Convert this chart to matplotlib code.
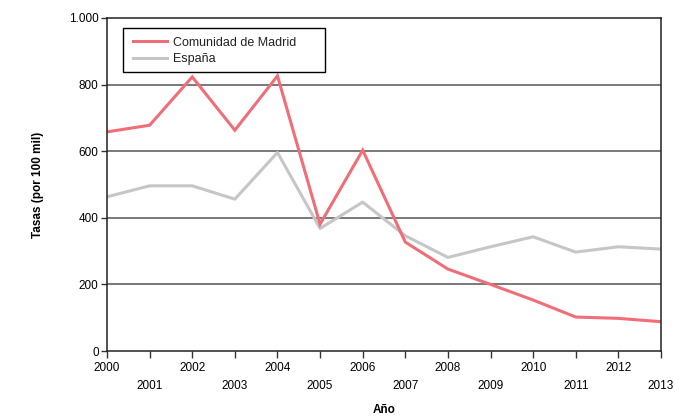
import matplotlib
matplotlib.use("Agg")
import matplotlib.pyplot as plt
from matplotlib.patches import Rectangle

years = list(range(2000, 2014))
madrid = [658, 678, 823, 663, 826, 381, 603, 327, 246, 200, 153, 102, 98, 88]
espana = [463, 496, 496, 456, 596, 368, 447, 346, 281, 313, 343, 297, 313, 306]
year_labels = [str(y) if y % 2 == 0 else "\n" + str(y) for y in years]
yticks = [0, 200, 400, 600, 800, 1000]
ytick_labels = ["0", "200", "400", "600", "800", "1.000"]

plt.rcParams['font.family'] = ['Liberation Sans Narrow', 'Liberation Sans', 'DejaVu Sans']

W, H = 675, 417
fig = plt.figure(figsize=(6.75, 4.17), dpi=100)
ax = fig.add_axes([107/W, 1-351/H, (661-107)/W, (351-18)/H])

ax.plot(years, madrid, color="#F06E78", lw=2.2, label="Comunidad de Madrid", solid_joinstyle='miter')
ax.plot(years, espana, color="#C6C6C6", lw=2.2, label="España", zorder=1.5)

ax.set_xlim(2000, 2013)
ax.set_ylim(0, 1000)
ax.set_xticks(years)
ax.set_xticklabels(year_labels, fontsize=8.5, linespacing=1.6)
ax.set_yticks(yticks)
ax.set_yticklabels(ytick_labels, fontsize=8.5)
ax.tick_params(axis='x', direction='out', length=5, width=1, color='#333333', pad=3)
ax.tick_params(axis='y', direction='out', length=4, width=1, color='#333333', pad=2)
for y in yticks[1:-1]:
    ax.axhline(y, color='#555555', lw=1.1, zorder=1)
for s in ['left', 'top', 'right', 'bottom']:
    ax.spines[s].set_color('#222222')
    ax.spines[s].set_linewidth(1.1)

ax.set_ylabel("Tasas (por 100 mil)", fontsize=8.5, fontweight='bold')
ax.set_xlabel("Año", fontsize=8.5, fontweight='bold')
ax.yaxis.set_label_coords(-0.113, 0.5)
ax.xaxis.set_label_coords(0.5, -0.16)

leg = fig.legend(*ax.get_legend_handles_labels(), loc='upper left',
                 bbox_to_anchor=(133/W, 1-36.5/H), bbox_transform=fig.transFigure,
                 frameon=False, fontsize=9,
                 handlelength=2.7, borderpad=0, labelspacing=0.36,
                 handletextpad=0.5, borderaxespad=0)
for t in leg.get_texts():
    t.set_family(['Liberation Sans', 'DejaVu Sans'])
    t.set_color('#222222')
fig.patches.append(Rectangle((123/W, 1-72/H), 202/W, 44/H, transform=fig.transFigure,
                             fill=True, facecolor='white', edgecolor='black', lw=1.0, zorder=0.5))
fig.patches[-1].set_zorder(3)
leg.set_zorder(4)

fig.savefig("out.png", dpi=100)
